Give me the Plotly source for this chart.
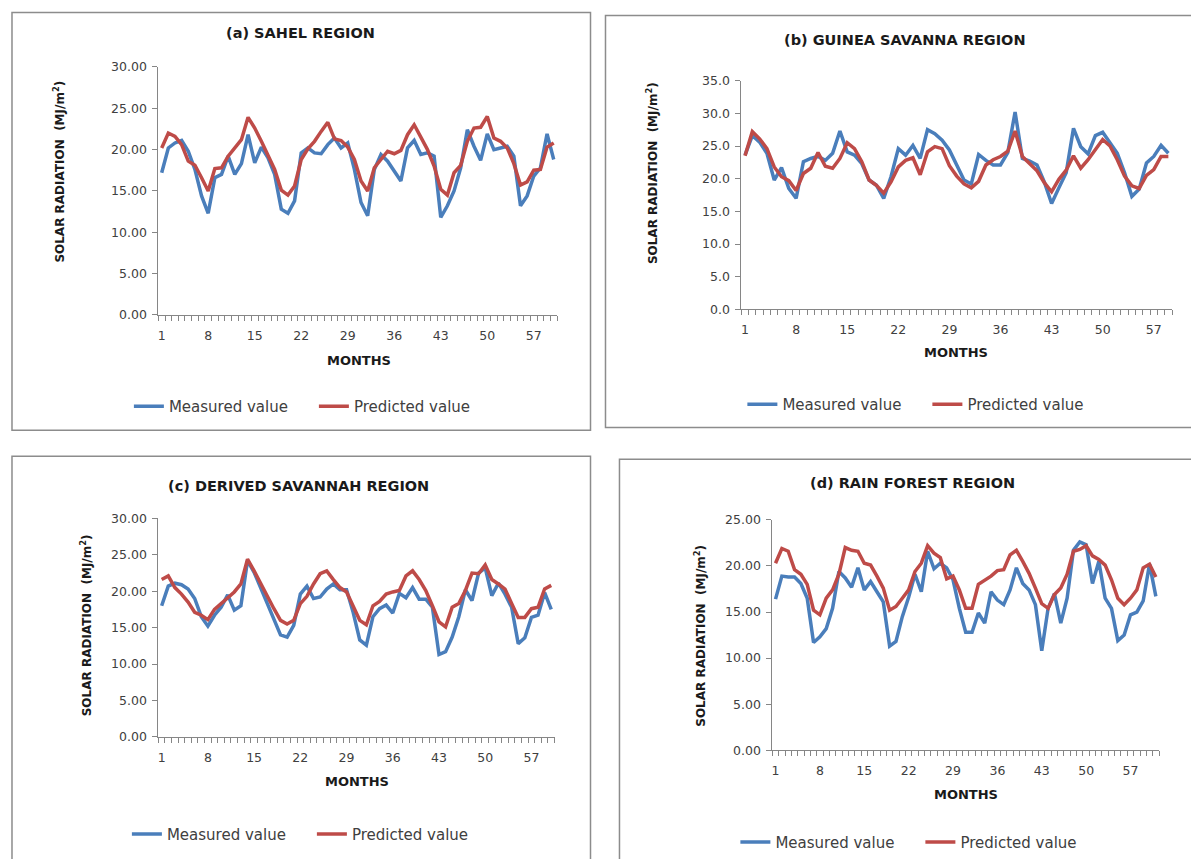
import plotly.graph_objects as go

W, H = 1191, 859
FONT = "DejaVu Sans"
BLUE = "#4A7EBB"
RED = "#BE4B48"
AXIS = "#868686"
TXT = "#404040"

# ---------------- data ----------------
x_tick_labels = [1, 8, 15, 22, 29, 36, 43, 50, 57]

sahel_measured = [17.2, 20.2, 20.8, 21.1, 19.8, 17.6, 14.4, 12.3, 16.6, 17.0,
                  19.2, 17.0, 18.3, 21.8, 18.4, 20.3, 19.0, 17.0, 12.8, 12.3,
                  13.8, 19.6, 20.2, 19.6, 19.5, 20.6, 21.4, 20.2, 20.8, 17.6,
                  13.6, 12.0, 17.6, 19.4, 18.6, 17.4, 16.2, 20.2, 21.1, 19.4,
                  19.6, 19.2, 11.8, 13.2, 15.0, 17.8, 22.4, 20.4, 18.7, 21.9,
                  20.0, 20.2, 20.4, 19.2, 13.2, 14.4, 16.8, 17.8, 21.9, 18.8]
sahel_predicted = [20.2, 22.0, 21.6, 20.6, 18.6, 18.1, 16.6, 15.0, 17.7, 17.8,
                   19.2, 20.2, 21.2, 23.9, 22.6, 21.0, 19.4, 17.6, 15.1, 14.5,
                   15.6, 18.8, 20.1, 21.0, 22.2, 23.3, 21.3, 21.1, 20.3, 18.8,
                   16.2, 15.0, 17.8, 18.8, 19.8, 19.5, 19.9, 21.8, 23.0, 21.5,
                   20.0, 18.0, 15.2, 14.5, 17.2, 18.1, 21.0, 22.6, 22.7, 24.0,
                   21.4, 21.0, 20.2, 18.3, 15.7, 16.1, 17.5, 17.6, 20.3, 20.8]

guinea_measured = [23.6, 26.6, 25.6, 23.9, 19.8, 21.7, 18.5, 17.0, 22.6, 23.1,
                   23.4, 22.8, 23.9, 27.3, 24.1, 23.6, 22.3, 19.8, 19.0, 17.0,
                   20.3, 24.6, 23.6, 25.1, 23.1, 27.5, 26.9, 25.9, 24.4, 22.0,
                   19.8, 19.2, 23.7, 22.8, 22.1, 22.1, 24.0, 30.2, 23.1, 22.7,
                   22.1, 19.5, 16.2, 18.6, 20.9, 27.7, 24.9, 23.8, 26.6, 27.1,
                   25.6, 23.9, 20.9, 17.3, 18.4, 22.4, 23.4, 25.1, 23.9]
guinea_predicted = [23.5, 27.2, 26.1, 24.6, 21.8, 20.3, 19.7, 18.2, 20.8, 21.6,
                    24.0, 21.9, 21.6, 23.1, 25.5, 24.6, 22.6, 19.8, 19.0, 17.8,
                    19.5, 21.8, 22.8, 23.2, 20.6, 24.1, 24.9, 24.6, 22.0, 20.4,
                    19.2, 18.6, 19.6, 22.1, 22.9, 23.4, 24.2, 27.3, 23.4, 22.3,
                    21.2, 19.4, 18.0, 19.9, 21.3, 23.5, 21.6, 22.9, 24.4, 26.0,
                    25.0, 22.9, 20.4, 18.9, 18.5, 20.5, 21.4, 23.4, 23.4]

derived_measured = [18.0, 20.7, 21.1, 20.9, 20.3, 19.0, 16.5, 15.2, 16.7, 17.8,
                    19.5, 17.4, 18.0, 24.2, 22.6, 20.5, 18.3, 16.0, 14.0, 13.7,
                    15.3, 19.6, 20.7, 19.0, 19.2, 20.3, 21.0, 20.2, 20.2, 17.1,
                    13.3, 12.6, 16.5, 17.6, 18.1, 17.0, 19.7, 19.1, 20.5, 18.9,
                    18.9, 17.8, 11.3, 11.7, 13.7, 16.5, 20.2, 18.7, 22.5, 23.2,
                    19.4, 21.1, 19.6, 17.8, 12.8, 13.6, 16.4, 16.7, 19.8, 17.5]
derived_predicted = [21.6, 22.1, 20.5, 19.6, 18.5, 17.1, 16.7, 16.1, 17.5, 18.3,
                     19.0, 19.9, 21.0, 24.4, 22.8, 21.0, 19.3, 17.6, 16.0, 15.5,
                     16.0, 18.3, 19.3, 21.0, 22.4, 22.8, 21.6, 20.5, 19.9, 18.0,
                     16.0, 15.4, 18.0, 18.6, 19.6, 19.9, 20.1, 22.1, 22.8, 21.6,
                     20.1, 18.0, 15.8, 15.1, 17.8, 18.3, 20.1, 22.5, 22.4, 23.6,
                     21.6, 21.0, 20.3, 18.3, 16.4, 16.4, 17.6, 17.8, 20.3, 20.8]

rain_measured = [16.4, 18.9, 18.8, 18.8, 18.1, 16.5, 11.7, 12.3, 13.2, 15.4,
                 19.4, 18.7, 17.7, 19.8, 17.4, 18.3, 17.2, 16.1, 11.3, 11.8,
                 14.5, 16.6, 19.1, 17.2, 21.6, 19.7, 20.3, 19.8, 18.5, 15.4,
                 12.8, 12.8, 14.9, 13.8, 17.2, 16.3, 15.8, 17.4, 19.8, 18.1,
                 17.4, 15.8, 10.8, 15.4, 17.0, 13.8, 16.5, 21.7, 22.6, 22.3,
                 18.1, 20.5, 16.5, 15.4, 11.9, 12.5, 14.7, 15.0, 16.2, 20.2,
                 16.7]
rain_predicted = [20.3, 21.9, 21.6, 19.6, 19.1, 18.0, 15.2, 14.7, 16.5, 17.4,
                  19.1, 22.0, 21.7, 21.6, 20.3, 20.1, 18.9, 17.6, 15.2, 15.6,
                  16.5, 17.4, 19.4, 20.3, 22.2, 21.4, 20.9, 18.6, 18.9, 17.4,
                  15.4, 15.4, 18.0, 18.4, 18.9, 19.5, 19.6, 21.2, 21.7, 20.5,
                  19.2, 17.6, 15.9, 15.4, 16.9, 17.6, 19.1, 21.6, 21.8, 22.2,
                  21.1, 20.7, 20.1, 18.5, 16.5, 15.8, 16.5, 17.4, 19.8, 20.2,
                  18.8]

series_names = ["Measured value", "Predicted value"]
panel_titles = ["(a) SAHEL REGION", "(b) GUINEA SAVANNA REGION",
                "(c) DERIVED SAVANNAH REGION", "(d) RAIN FOREST REGION"]
y_title = "SOLAR RADIATION  (MJ/m<sup>2</sup>)"
x_title = "MONTHS"


def fx(px):
    return px / W


def fy(py):
    # small vertical calibration of the measured reference positions
    return 1 - ((py - 7.5) / 0.984) / H


# layout geometry (pixels as measured on the reference)
panels = [
    dict(meas=sahel_measured, pred=sahel_predicted, ymax=30, fmt=".2f",
         xdom=(157.5, 556.5), ydom=(316, 66.7), title=(300, 33),
         ytitle=(58, 172), xtitle=(358, 362), legend=(128, 408),
         box=(11, 12, 590, 432)),
    dict(meas=guinea_measured, pred=guinea_predicted, ymax=35, fmt=".1f",
         xdom=(741, 1172), ydom=(310.5, 80.5), title=(905, 40),
         ytitle=(651, 173), xtitle=(956, 354), legend=(742, 406),
         box=(605, 15, 1195, 429)),
    dict(meas=derived_measured, pred=derived_predicted, ymax=30, fmt=".2f",
         xdom=(157.5, 554), ydom=(740, 520.5), title=(298, 488),
         ytitle=(85, 628), xtitle=(356, 785), legend=(126, 838),
         box=(11, 458, 590, 880)),
    dict(meas=rain_measured, pred=rain_predicted, ymax=25, fmt=".2f",
         xdom=(772, 1159), ydom=(753.5, 522), title=(912, 485),
         ytitle=(700, 638), xtitle=(966, 798), legend=(735, 846),
         box=(619, 461, 1200, 880)),
]

fig = go.Figure()
annotations = []
shapes = []
layout_axes = {}

for i, p in enumerate(panels):
    n = i + 1
    sfx = "" if n == 1 else str(n)
    xa, ya = "x" + sfx, "y" + sfx
    leg = "legend" + sfx
    months = list(range(1, len(p["meas"]) + 1))
    for vals, name, col in [(p["meas"], series_names[0], BLUE),
                            (p["pred"], series_names[1], RED)]:
        fig.add_trace(go.Scatter(
            x=months, y=vals, name=name, mode="lines",
            line=dict(color=col, width=3.5), xaxis=xa, yaxis=ya,
            legend=leg, showlegend=True, hoverinfo="skip"))
    N = len(months)
    layout_axes["xaxis" + sfx] = dict(
        domain=[fx(p["xdom"][0]), fx(p["xdom"][1])], anchor=ya,
        range=[0.5, N + 0.5], tickmode="array", tickvals=x_tick_labels,
        ticktext=[str(v) for v in x_tick_labels], ticks="",
        ticklabelstandoff=9,
        showline=True, linecolor=AXIS, linewidth=1, showgrid=False,
        zeroline=False, fixedrange=True,
        tickfont=dict(family=FONT, size=12.5, color=TXT),
        minor=dict(tickmode="array", tickvals=[k + 0.5 for k in range(N + 1)],
                   ticks="outside", ticklen=5, tickcolor=AXIS, tickwidth=1,
                   showgrid=False))
    layout_axes["yaxis" + sfx] = dict(
        domain=[fy(p["ydom"][0]), fy(p["ydom"][1])], anchor=xa,
        range=[0, p["ymax"]], dtick=5, tick0=0, tickformat=p["fmt"],
        ticks="outside", ticklen=5, tickcolor=AXIS, showline=True,
        linecolor=AXIS, linewidth=1, showgrid=False, zeroline=False,
        fixedrange=True, ticklabelstandoff=3,
        tickfont=dict(family=FONT, size=12.5, color=TXT))
    layout_axes[leg] = dict(
        x=fx(p["legend"][0]), y=fy(p["legend"][1]), xanchor="left",
        yanchor="middle", orientation="h", bgcolor="rgba(0,0,0,0)",
        font=dict(family=FONT, size=15, color=TXT),
        entrywidth=140, entrywidthmode="pixels", itemwidth=30,
        tracegroupgap=0)
    annotations.append(dict(
        text="<b>" + panel_titles[i] + "</b>", x=fx(p["title"][0]),
        y=fy(p["title"][1]), xref="paper", yref="paper", showarrow=False,
        xanchor="center", yanchor="middle",
        font=dict(family=FONT, size=14.5, color="#1a1a1a")))
    annotations.append(dict(
        text="<b>" + y_title + "</b>", x=fx(p["ytitle"][0]),
        y=fy(p["ytitle"][1]), xref="paper", yref="paper", showarrow=False,
        textangle=-90, xanchor="center", yanchor="middle",
        font=dict(family=FONT, size=12, color="#1a1a1a")))
    annotations.append(dict(
        text="<b>" + x_title + "</b>", x=fx(p["xtitle"][0]),
        y=fy(p["xtitle"][1]), xref="paper", yref="paper", showarrow=False,
        xanchor="center", yanchor="middle",
        font=dict(family=FONT, size=13, color="#1a1a1a")))
    bx = p["box"]
    shapes.append(dict(type="rect", xref="paper", yref="paper",
                       x0=fx(bx[0]), x1=fx(bx[2]), y0=fy(bx[3]), y1=fy(bx[1]),
                       line=dict(color="#8C8C8C", width=1.5),
                       fillcolor="rgba(0,0,0,0)", layer="below"))

fig.update_layout(
    width=W, height=H, autosize=False,
    margin=dict(l=0, r=0, t=0, b=0, pad=0),
    paper_bgcolor="white", plot_bgcolor="white",
    font=dict(family=FONT, color=TXT),
    annotations=annotations, shapes=shapes,
    **layout_axes)

fig.write_html("out.html",
               config={"displayModeBar": False, "staticPlot": True},
               post_script="document.body.style.margin='0px';"
                           "document.body.style.overflow='hidden';")
